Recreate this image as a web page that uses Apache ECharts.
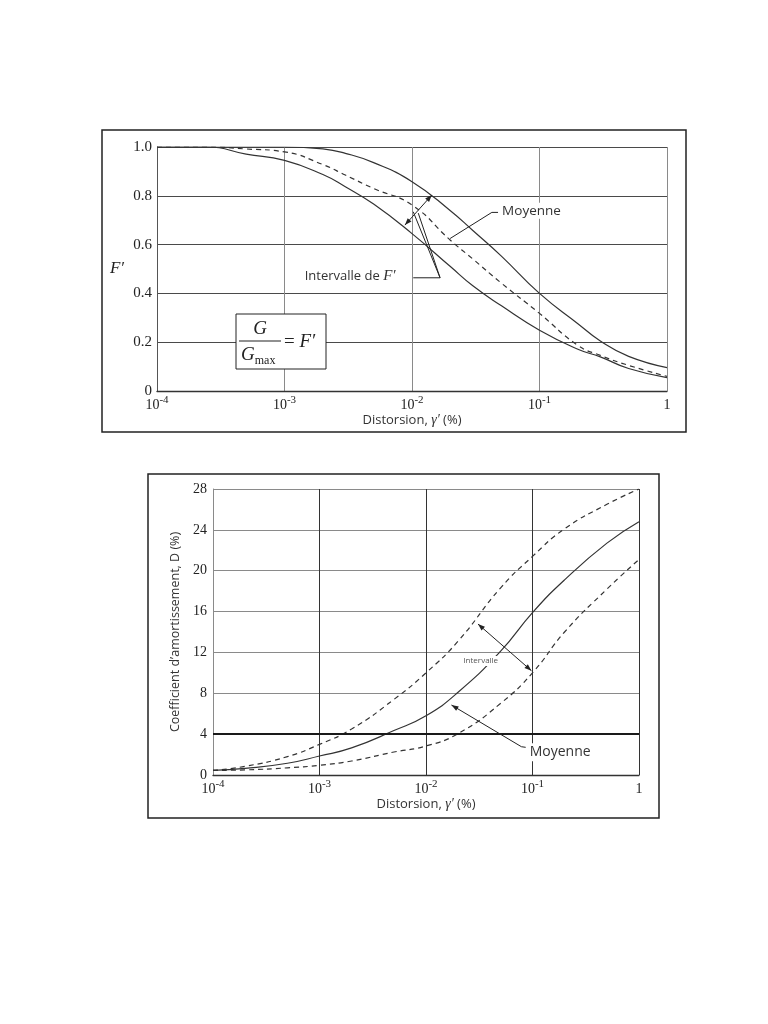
<!DOCTYPE html>
<html>
<head>
<meta charset="utf-8">
<script src="https://cdn.jsdelivr.net/npm/echarts@6/dist/echarts.min.js"></script>
<style>
  html, body { margin: 0; padding: 0; background: #ffffff; }
  #main { width: 768px; height: 1024px; }
</style>
</head>
<body>
<div id="main"></div>
<script>
// Courbe F' = G/Gmax (graphe du haut)
const strainF = [1e-4, 2.5e-4, 5e-4, 1e-3, 2e-3, 3e-3, 5e-3, 1e-2, 2e-2, 3e-2, 5e-2, 1e-1, 2e-1, 3e-1, 5e-1, 1];
const fMax  = [1, 1, 1, 1, 0.992, 0.974, 0.936, 0.858, 0.739, 0.658, 0.554, 0.40, 0.276, 0.205, 0.142, 0.096];
const fMean = [1, 1, 0.992, 0.98, 0.928, 0.885, 0.83, 0.762, 0.618, 0.541, 0.443, 0.318, 0.187, 0.146, 0.105, 0.06];
const fMin  = [1, 1, 0.971, 0.945, 0.887, 0.837, 0.766, 0.645, 0.51, 0.431, 0.35, 0.249, 0.171, 0.14, 0.092, 0.055];

// Coefficient d'amortissement D (graphe du bas)
const strainD = [1e-4, 2e-4, 5e-4, 1e-3, 2e-3, 5e-3, 1e-2, 2e-2, 5e-2, 1e-1, 2e-1, 5e-1, 1];
const dUpper = [0.45, 0.85, 1.8, 3.0, 4.5, 7.4, 10.0, 13.1, 18.3, 21.4, 24.1, 26.5, 28.0];
const dMean  = [0.45, 0.65, 1.15, 1.86, 2.65, 4.35, 5.8, 8.1, 12.1, 15.9, 19.1, 22.7, 24.8];
const dLower = [0.45, 0.5, 0.7, 0.95, 1.37, 2.25, 2.84, 4.05, 7.0, 10.0, 14.0, 18.2, 21.1];

// graduations
const fTicks = [0, 0.2, 0.4, 0.6, 0.8, 1.0];
const dTicks = [0, 4, 8, 12, 16, 20, 24, 28];

const LINE = '#333333';
const SERIF = 'Liberation Serif';
const SANS = 'Open Sans';

function pairs(xs, ys) {
  return xs.map((x, i) => [x, ys[i]]);
}

// etiquettes 10^n
function logLabel(v) {
  const e = Math.round(Math.log10(v));
  if (e === 0) return '{b|1}';
  return '{b|10}{s|' + e + '}';
}

function xAxisOpt(gridIndex, nameGap) {
  return {
    gridIndex: gridIndex,
    type: 'log',
    logBase: 10,
    min: 1e-4,
    max: 1,
    name: '{a|Distorsion, }{g|γ′}{a| (%)}',
    nameLocation: 'middle',
    nameGap: nameGap,
    nameTextStyle: {
      rich: {
        a: { fontFamily: SANS, fontSize: 13, color: '#333' },
        g: { fontFamily: SERIF, fontStyle: 'italic', fontSize: 14, color: '#333' }
      }
    },
    axisLine: { show: true, lineStyle: { color: '#333', width: 1.3 } },
    axisTick: { show: false },
    splitLine: {
      show: true,
      showMinLine: gridIndex === 0,
      lineStyle: { color: gridIndex === 0 ? '#8a8a8a' : '#333', width: 1 }
    },
    axisLabel: {
      margin: 4,
      formatter: logLabel,
      rich: {
        b: { fontFamily: SERIF, fontSize: 14, color: '#222', lineHeight: 17, verticalAlign: 'bottom' },
        s: { fontFamily: SERIF, fontSize: 11, color: '#222', lineHeight: 11, verticalAlign: 'top' }
      }
    }
  };
}

function lineSeries(name, xi, yi, data, dashed) {
  return {
    name: name,
    type: 'line',
    xAxisIndex: xi,
    yAxisIndex: yi,
    data: data,
    smooth: 0.5,
    showSymbol: false,
    silent: true,
    lineStyle: { color: LINE, width: 1.2, type: dashed ? [5, 4] : 'solid' },
    z: 3
  };
}

const chart = echarts.init(document.getElementById('main'));

chart.setOption({
  animation: false,
  backgroundColor: '#ffffff',
  grid: [
    { left: 157, top: 147, width: 510, height: 244 },
    { left: 213, top: 489, width: 426, height: 286 }
  ],
  xAxis: [xAxisOpt(0, 22), xAxisOpt(1, 20)],
  yAxis: [
    {
      gridIndex: 0,
      type: 'value',
      min: fTicks[0],
      max: fTicks[fTicks.length - 1],
      interval: 0.2,
      name: 'F′',
      nameLocation: 'middle',
      nameGap: 33,
      nameRotate: 0,
      nameTextStyle: { fontFamily: SERIF, fontStyle: 'italic', fontSize: 17, color: '#222' },
      axisLine: { show: true, lineStyle: { color: '#555', width: 1 } },
      axisTick: { show: false },
      splitLine: { show: true, lineStyle: { color: '#4a4a4a', width: 1.2 } },
      axisLabel: {
        margin: 5,
        fontFamily: SERIF,
        fontSize: 15,
        color: '#222',
        formatter: v => (v === 0 ? '0' : v.toFixed(1))
      }
    },
    {
      gridIndex: 1,
      type: 'value',
      min: dTicks[0],
      max: dTicks[dTicks.length - 1],
      interval: 4,
      name: 'Coefficient d’amortissement, D (%)',
      nameLocation: 'middle',
      nameGap: 27,
      nameTextStyle: { fontFamily: SANS, fontSize: 12.5, color: '#333' },
      axisLine: { show: true, lineStyle: { color: '#8a8a8a', width: 1 } },
      axisTick: { show: false },
      splitLine: { show: true, lineStyle: { color: '#8a8a8a', width: 1 } },
      axisLabel: { margin: 6, fontFamily: SERIF, fontSize: 14, color: '#222' }
    }
  ],
  series: [
    lineSeries('Fmax', 0, 0, pairs(strainF, fMax), false),
    lineSeries('Moyenne', 0, 0, pairs(strainF, fMean), true),
    lineSeries('Fmin', 0, 0, pairs(strainF, fMin), false),
    lineSeries('Dsup', 1, 1, pairs(strainD, dUpper), true),
    Object.assign(lineSeries('Dmoy', 1, 1, pairs(strainD, dMean), false), {
      markLine: {
        silent: true,
        symbol: 'none',
        label: { show: false },
        lineStyle: { color: '#1a1a1a', width: 2, type: 'solid' },
        data: [{ yAxis: 4 }]
      }
    }),
    lineSeries('Dinf', 1, 1, pairs(strainD, dLower), true)
  ]
});

// annotations (coordonnees en donnees)
const annTop = {
  arrowA: [0.0088, 0.68],
  arrowB: [0.0143, 0.803],
  interText: [0.00139, 0.472],
  interH0: [0.01023, 0.464],
  interH1: [0.0166, 0.464],
  interUp1: [0.01023, 0.7345],
  interUp2: [0.0112, 0.729],
  moyText: [0.0491, 0.739],
  moyL0: [0.0473, 0.732],
  moyL1: [0.0423, 0.732],
  moyL2: [0.0199, 0.625]
};
const annBot = {
  arrowA: [0.03076, 14.78],
  arrowB: [0.0977, 10.21],
  interText: [0.03266, 11.16],
  moyTip: [0.01734, 6.85],
  moyL1: [0.0787, 2.77],
  moyL2: [0.0863, 2.71],
  moyText: [0.0902, 2.22]
};

function px(g, p) {
  return chart.convertToPixel({ gridIndex: g }, p);
}

function seg(a, b) {
  return { type: 'line', z: 100, shape: { x1: a[0], y1: a[1], x2: b[0], y2: b[1] }, style: { stroke: '#222', lineWidth: 1 } };
}

function arrowHead(tip, from) {
  const dx = tip[0] - from[0], dy = tip[1] - from[1];
  const d = Math.hypot(dx, dy);
  const ux = dx / d, uy = dy / d;
  const len = 7, half = 2.6;
  const bx = tip[0] - ux * len, by = tip[1] - uy * len;
  return {
    type: 'polygon', z: 100,
    shape: { points: [tip, [bx - uy * half, by + ux * half], [bx + uy * half, by - ux * half]] },
    style: { fill: '#222' }
  };
}

const t = {};
Object.keys(annTop).forEach(k => { t[k] = px(0, annTop[k]); });
const b = {};
Object.keys(annBot).forEach(k => { b[k] = px(1, annBot[k]); });

const graphics = [
  // cadres
  { type: 'rect', z: 90, shape: { x: 102, y: 130, width: 584, height: 302 }, style: { fill: 'none', stroke: '#222', lineWidth: 1.5 } },
  { type: 'rect', z: 90, shape: { x: 148, y: 474, width: 511, height: 344 }, style: { fill: 'none', stroke: '#222', lineWidth: 1.5 } },

  // haut : intervalle
  seg(t.arrowA, t.arrowB),
  arrowHead(t.arrowA, t.arrowB),
  arrowHead(t.arrowB, t.arrowA),
  seg(t.interH0, t.interH1),
  seg(t.interH1, t.interUp1),
  seg(t.interH1, t.interUp2),
  {
    type: 'text', z: 101,
    style: {
      x: t.interText[0], y: t.interText[1], verticalAlign: 'middle', align: 'left',
      text: '{a|Intervalle de }{f|F′}',
      backgroundColor: '#fff', padding: [1, 3, 1, 2],
      rich: {
        a: { fontFamily: SANS, fontSize: 13, fill: '#333' },
        f: { fontFamily: SERIF, fontStyle: 'italic', fontSize: 15, fill: '#333' }
      }
    }
  },
  // haut : moyenne
  seg(t.moyL0, t.moyL1),
  seg(t.moyL1, t.moyL2),
  {
    type: 'text', z: 101,
    style: {
      x: t.moyText[0], y: t.moyText[1], verticalAlign: 'middle', align: 'left',
      text: 'Moyenne', fontFamily: SANS, fontSize: 13.5, fill: '#333',
      backgroundColor: '#fff', padding: [1, 2, 1, 2]
    }
  },
  // formule G/Gmax = F'
  {
    type: 'group', z: 101,
    children: [
      { type: 'rect', z: 101, shape: { x: 236, y: 314, width: 90, height: 55 }, style: { fill: '#fff', stroke: '#222', lineWidth: 1 } },
      { type: 'text', z: 102, style: { x: 260, y: 329, align: 'center', verticalAlign: 'middle', text: 'G', fontFamily: SERIF, fontStyle: 'italic', fontSize: 19, fill: '#222' } },
      { type: 'line', z: 102, shape: { x1: 239, y1: 341, x2: 281, y2: 341 }, style: { stroke: '#222', lineWidth: 1.2 } },
      {
        type: 'text', z: 102,
        style: {
          x: 241, y: 356, align: 'left', verticalAlign: 'middle',
          text: '{g|G}{m|max}',
          rich: {
            g: { fontFamily: SERIF, fontStyle: 'italic', fontSize: 19, fill: '#222', lineHeight: 22, verticalAlign: 'top' },
            m: { fontFamily: SERIF, fontSize: 12, fill: '#222', lineHeight: 12, verticalAlign: 'bottom' }
          }
        }
      },
      {
        type: 'text', z: 102,
        style: {
          x: 284, y: 342, align: 'left', verticalAlign: 'middle',
          text: '{e|= }{f|F′}',
          rich: {
            e: { fontFamily: SERIF, fontSize: 19, fill: '#222' },
            f: { fontFamily: SERIF, fontStyle: 'italic', fontSize: 19, fill: '#222' }
          }
        }
      }
    ]
  },

  // bas : intervalle
  seg(b.arrowA, b.arrowB),
  arrowHead(b.arrowA, b.arrowB),
  arrowHead(b.arrowB, b.arrowA),
  {
    type: 'text', z: 101,
    style: {
      x: b.interText[0], y: b.interText[1], align: 'center', verticalAlign: 'middle',
      text: 'Intervalle', fontFamily: SANS, fontSize: 8, fill: '#555',
      backgroundColor: '#fff', padding: [1, 3, 1, 3]
    }
  },
  // bas : moyenne
  seg(b.moyTip, b.moyL1),
  seg(b.moyL1, b.moyL2),
  arrowHead(b.moyTip, b.moyL1),
  {
    type: 'text', z: 101,
    style: {
      x: b.moyText[0], y: b.moyText[1], align: 'left', verticalAlign: 'middle',
      text: 'Moyenne', fontFamily: SANS, fontSize: 14, fill: '#333',
      backgroundColor: '#fff', padding: [2, 2, 2, 2]
    }
  }
];

chart.setOption({ graphic: graphics });

window.addEventListener('resize', () => chart.resize());
</script>
</body>
</html>
